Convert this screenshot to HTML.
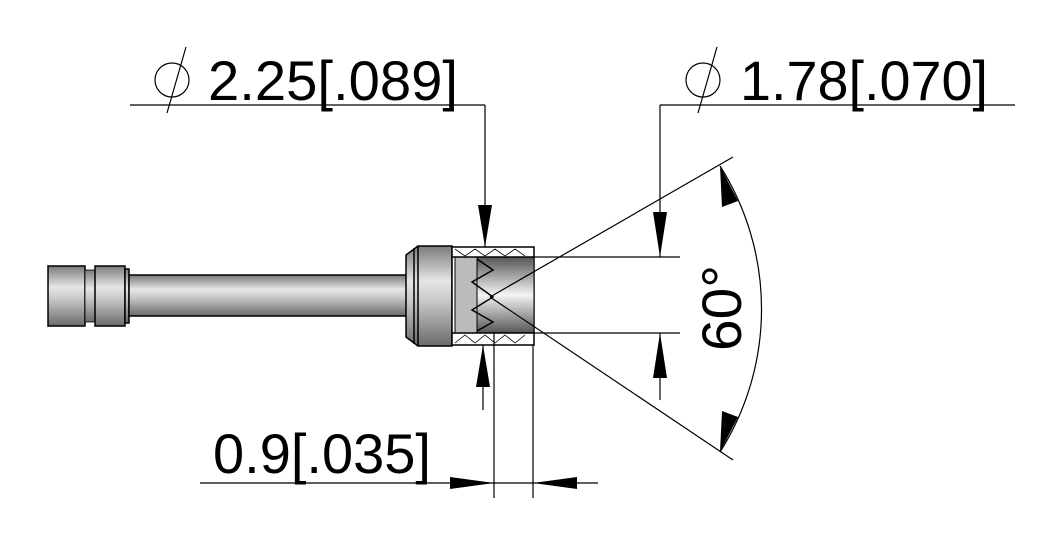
<!DOCTYPE html>
<html><head><meta charset="utf-8"><style>
html,body{margin:0;padding:0;background:#fff;width:1063px;height:548px;overflow:hidden}
text{font-family:"Liberation Sans","DejaVu Sans",sans-serif;font-weight:normal;fill:#000}
</style></head><body>
<svg width="1063" height="548" viewBox="0 0 1063 548" xmlns="http://www.w3.org/2000/svg">
<defs>
<linearGradient id="cyl" x1="0" y1="0" x2="0" y2="1">
<stop offset="0" stop-color="#7a7a7a"/><stop offset="0.35" stop-color="#e6e6e6"/><stop offset="0.55" stop-color="#c8c8c8"/><stop offset="1" stop-color="#6a6a6a"/>
</linearGradient>
<linearGradient id="cavg" x1="0" y1="0" x2="0" y2="1">
<stop offset="0" stop-color="#555"/><stop offset="0.5" stop-color="#f4f4f4"/><stop offset="1" stop-color="#555"/>
</linearGradient>
</defs>
<g stroke="#000" stroke-width="1.5">
<rect x="48" y="266" width="37" height="60" fill="url(#cyl)"/>
<rect x="85" y="270" width="10" height="52" fill="url(#cyl)" stroke-width="0.8"/>
<rect x="95" y="266" width="30" height="60" fill="url(#cyl)"/>
<rect x="125" y="269" width="4" height="54" fill="url(#cyl)"/>
<rect x="129" y="275" width="280" height="41" fill="url(#cyl)"/>
<path d="M418 246 L452 246 L452 346 L418 346 L410 340 L406 337 L406 255 L410 252 Z" fill="url(#cyl)"/>
<line x1="418" y1="246" x2="418" y2="346"/>
<line x1="414" y1="248" x2="414" y2="344"/>
<rect x="452" y="247" width="82" height="98" fill="#fff"/>
<rect x="455" y="257" width="79" height="76" fill="url(#cavg)" stroke-width="1"/>
<rect x="455" y="257" width="22" height="76" fill="#bbb" stroke-width="1"/>
<path d="M477 259 L493 270 L472 282 L493 297 L472 310 L493 322 L477 331" fill="none"/>
<line x1="452" y1="257" x2="534" y2="257"/>
<line x1="452" y1="333" x2="534" y2="333"/>
<path d="M455 249 L465 256 L475 249 L485 256 L495 249 L505 256 L515 249 L525 256 M455 343 L465 335 L475 343 L485 335 L495 343 L505 335 L515 343 L525 335" fill="none" stroke-width="0.8"/>
</g>
<g stroke="#000" stroke-width="1.2" fill="none">
<line x1="130" y1="105" x2="485" y2="105"/>
<line x1="485" y1="105" x2="485" y2="247"/>
<line x1="483" y1="345" x2="483" y2="410"/>
<line x1="660" y1="105" x2="1015" y2="105"/>
<line x1="660" y1="105" x2="660" y2="257"/>
<line x1="534" y1="257" x2="680" y2="257"/>
<line x1="534" y1="333" x2="680" y2="333"/>
<line x1="660" y1="333" x2="660" y2="400"/>
<line x1="490" y1="297" x2="733" y2="157"/>
<line x1="490" y1="297" x2="733" y2="460"/>
<path d="M720 166 A267 267 0 0 1 720 452"/>
<line x1="200" y1="483" x2="598" y2="483"/>
<line x1="494" y1="333" x2="494" y2="498"/>
<line x1="533" y1="345" x2="533" y2="498"/>
<circle cx="172" cy="80" r="17"/>
<line x1="186" y1="47" x2="167" y2="113"/>
<circle cx="703" cy="80" r="17"/>
<line x1="717" y1="47" x2="698" y2="113"/>
</g>
<g fill="#000">
<polygon points="485,247 478,205 492,205"/>
<polygon points="483,345 476,387 490,387"/>
<polygon points="660,257 653,212 667,212"/>
<polygon points="660,333 653,378 667,378"/>
<polygon points="720,166 722,207 738,201"/>
<polygon points="720,452 722,411 738,417"/>
<polygon points="494,483 450,477 450,489"/>
<polygon points="533,483 577,477 577,489"/>
</g>
<text x="208" y="100" font-size="56" textLength="250" lengthAdjust="spacingAndGlyphs">2.25[.089]</text>
<text x="740" y="100" font-size="56" textLength="248" lengthAdjust="spacingAndGlyphs">1.78[.070]</text>
<text x="213" y="473" font-size="56" textLength="218" lengthAdjust="spacingAndGlyphs">0.9[.035]</text>
<text transform="translate(741,351) rotate(-90)" font-size="56" textLength="86" lengthAdjust="spacingAndGlyphs">60°</text>
</svg>
</body></html>
